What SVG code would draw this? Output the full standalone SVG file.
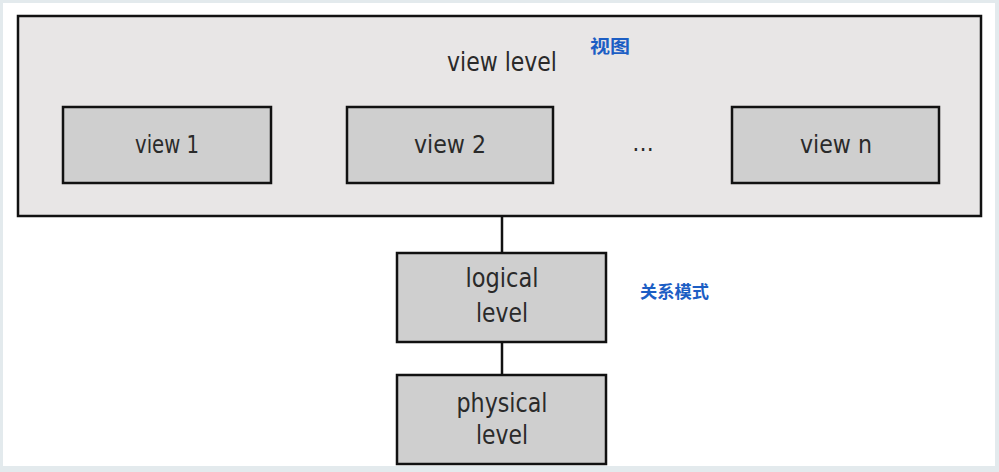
<svg xmlns="http://www.w3.org/2000/svg" width="999" height="472" viewBox="0 0 999 472">
<style>
.box{fill:#cfcfcf;stroke:#111;stroke-width:2.5}
.t{font-family:"DejaVu Sans Condensed","Liberation Sans",sans-serif;fill:#2a2a2a;text-anchor:middle}
.zh{font-family:"Noto Sans CJK SC",sans-serif;font-weight:bold;fill:#1c5ec4}
.c{stroke:#111;stroke-width:2.5;fill:none}
</style>
<rect x="0" y="0" width="999" height="472" fill="#e3eaed"/>
<rect x="3" y="3" width="992" height="463" fill="#ffffff"/>
<g id="connectors">
<line class="c" x1="502" y1="216" x2="502" y2="253"/>
<line class="c" x1="502" y1="342" x2="502" y2="375"/>
</g>
<g id="view-level">
<rect x="18" y="16" width="963" height="200" fill="#e8e6e6" stroke="#111" stroke-width="2.5"/>
<text class="t" x="502" y="71" font-size="26" textLength="110" lengthAdjust="spacingAndGlyphs">view level</text>
<text class="zh" x="590" y="53" font-size="18" textLength="40" lengthAdjust="spacingAndGlyphs">视图</text>
</g>
<g id="view1">
<rect class="box" x="63" y="107" width="208" height="76"/>
<text class="t" x="167" y="153" font-size="24" textLength="64" lengthAdjust="spacingAndGlyphs">view 1</text>
</g>
<g id="view2">
<rect class="box" x="347" y="107" width="206" height="76"/>
<text class="t" x="450" y="153" font-size="24" textLength="72" lengthAdjust="spacingAndGlyphs">view 2</text>
</g>
<g id="ellipsis">
<text class="t" x="643" y="151" font-size="24">…</text>
</g>
<g id="viewn">
<rect class="box" x="732" y="107" width="207" height="76"/>
<text class="t" x="836" y="153" font-size="24" textLength="72" lengthAdjust="spacingAndGlyphs">view n</text>
</g>
<g id="logical">
<rect class="box" x="397" y="253" width="209" height="89"/>
<text class="t" x="502" y="287" font-size="27" textLength="73" lengthAdjust="spacingAndGlyphs">logical</text>
<text class="t" x="502" y="322" font-size="27" textLength="52" lengthAdjust="spacingAndGlyphs">level</text>
<text class="zh" x="640" y="298" font-size="17" textLength="69" lengthAdjust="spacingAndGlyphs">关系模式</text>
</g>
<g id="physical">
<rect class="box" x="397" y="375" width="209" height="89"/>
<text class="t" x="502" y="412" font-size="27" textLength="91" lengthAdjust="spacingAndGlyphs">physical</text>
<text class="t" x="502" y="444" font-size="27" textLength="52" lengthAdjust="spacingAndGlyphs">level</text>
</g>
</svg>
